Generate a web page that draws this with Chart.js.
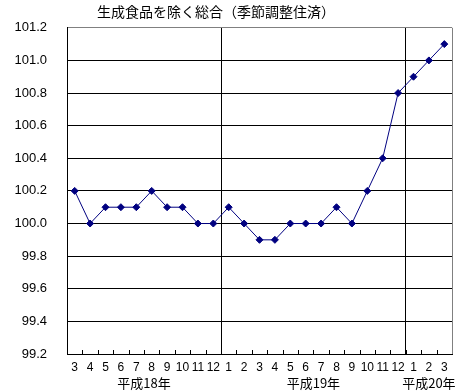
<!doctype html>
<html lang="ja">
<head>
    <meta charset="utf-8">
    <script src="https://cdn.jsdelivr.net/npm/chart.js"></script>
    <title>生成食品を除く総合</title>
    <style>
        html, body { margin: 0; padding: 0; background: #fff; }
        #wrap { width: 475px; height: 392px; }
    </style>
</head>
<body>
    <div id="wrap"><canvas id="grafik"></canvas></div>
    <script type="text/javascript">
        // data
        var judul = '生成食品を除く総合（季節調整住済）';
        var bulan = ['3', '4', '5', '6', '7', '8', '9', '10', '11', '12',
                     '1', '2', '3', '4', '5', '6', '7', '8', '9', '10', '11', '12',
                     '1', '2', '3'];
        var nilai = [100.2, 100.0, 100.1, 100.1, 100.1, 100.2, 100.1, 100.1, 100.0, 100.0,
                     100.1, 100.0, 99.9, 99.9, 100.0, 100.0, 100.0, 100.1, 100.0, 100.2, 100.4, 100.8,
                     100.9, 101.0, 101.1];
        var tahun = ['平成18年', '平成19年', '平成20年'];
        var jumlahBulan = [10, 12, 3];
        var yMin = 99.2, yMax = 101.2, yStep = 0.2;

        var FONT = '"Liberation Sans", Arial, "Noto Sans CJK JP", sans-serif';
        var FONT_JP = '"Noto Sans CJK JP", sans-serif';

        // batas antar tahun (indeks garis grid)
        var batas = [];
        var acc = 0;
        jumlahBulan.forEach(function (n, i) {
            acc += n;
            if (i < jumlahBulan.length - 1) batas.push(acc);
        });

        // judul, tick kecil ke atas, label tahun
        var hiasan = {
            id: 'hiasan',
            afterDraw: function (chart) {
                var ctx = chart.ctx;
                var x = chart.scales.x;
                var area = chart.chartArea;
                ctx.save();
                // tick kecil di sumbu x
                ctx.strokeStyle = '#000';
                ctx.lineWidth = 1;
                ctx.beginPath();
                for (var i = 1; i < bulan.length; i++) {
                    var px = Math.round((x.getPixelForValue(i - 1) + x.getPixelForValue(i)) / 2) + 0.5;
                    ctx.moveTo(px, area.bottom);
                    ctx.lineTo(px, area.bottom - 4);
                }
                ctx.stroke();
                // judul
                ctx.fillStyle = '#000';
                ctx.font = '14px ' + FONT_JP;
                ctx.textAlign = 'center';
                ctx.textBaseline = 'middle';
                ctx.fillText(judul, 216, 12);
                // label tahun
                ctx.font = '13px ' + FONT_JP;
                var awal = 0;
                tahun.forEach(function (t, k) {
                    var akhir = awal + jumlahBulan[k] - 1;
                    var tengah = (x.getPixelForValue(awal) + x.getPixelForValue(akhir)) / 2;
                    var w = ctx.measureText(t).width;
                    tengah = Math.min(tengah, chart.width - w / 2 - 5);
                    ctx.fillText(t, tengah, 383);
                    awal += jumlahBulan[k];
                });
                ctx.restore();
            }
        };

        var ctx = document.getElementById('grafik').getContext('2d');
        var grafik = new Chart(ctx, {
            type: 'line',
            data: {
                labels: bulan,
                datasets: [{
                    data: nilai,
                    borderColor: '#000080',
                    backgroundColor: '#000080',
                    borderWidth: 1,
                    pointStyle: 'rectRot',
                    pointRadius: 3.5,
                    pointHoverRadius: 3.5,
                    tension: 0
                }]
            },
            options: {
                responsive: true,
                maintainAspectRatio: false,
                animation: false,
                events: [],
                layout: { padding: { left: 0, top: 23, right: 23, bottom: 0 } },
                plugins: {
                    legend: { display: false },
                    title: { display: false },
                    tooltip: { enabled: false }
                },
                scales: {
                    x: {
                        type: 'category',
                        offset: true,
                        afterFit: function (s) { s.height = 38; },
                        grid: {
                            offset: true,
                            drawTicks: false,
                            lineWidth: 1,
                            color: function (c) {
                                if (c.type !== 'tick') return '#808080';
                                if (batas.indexOf(c.index) >= 0) return '#000';
                                return 'rgba(0,0,0,0)';
                            }
                        },
                        border: { display: true, color: '#000', width: 1 },
                        ticks: {
                            autoSkip: false,
                            maxRotation: 0,
                            padding: 6,
                            color: '#000',
                            font: { family: FONT, size: 12 }
                        }
                    },
                    y: {
                        min: yMin,
                        max: yMax,
                        afterFit: function (s) { s.width = 67; },
                        grid: {
                            drawTicks: false,
                            lineWidth: 1,
                            color: function (c) {
                                if (c.tick && Math.abs(c.tick.value - yMax) < 1e-6) return '#808080';
                                return '#000';
                            }
                        },
                        border: { display: true, color: '#000', width: 1 },
                        ticks: {
                            stepSize: yStep,
                            padding: 20,
                            color: '#000',
                            font: { family: FONT, size: 13 },
                            callback: function (v) { return Number(v).toFixed(1); }
                        }
                    }
                }
            },
            plugins: [hiasan]
        });
    </script>
</body>
</html>
